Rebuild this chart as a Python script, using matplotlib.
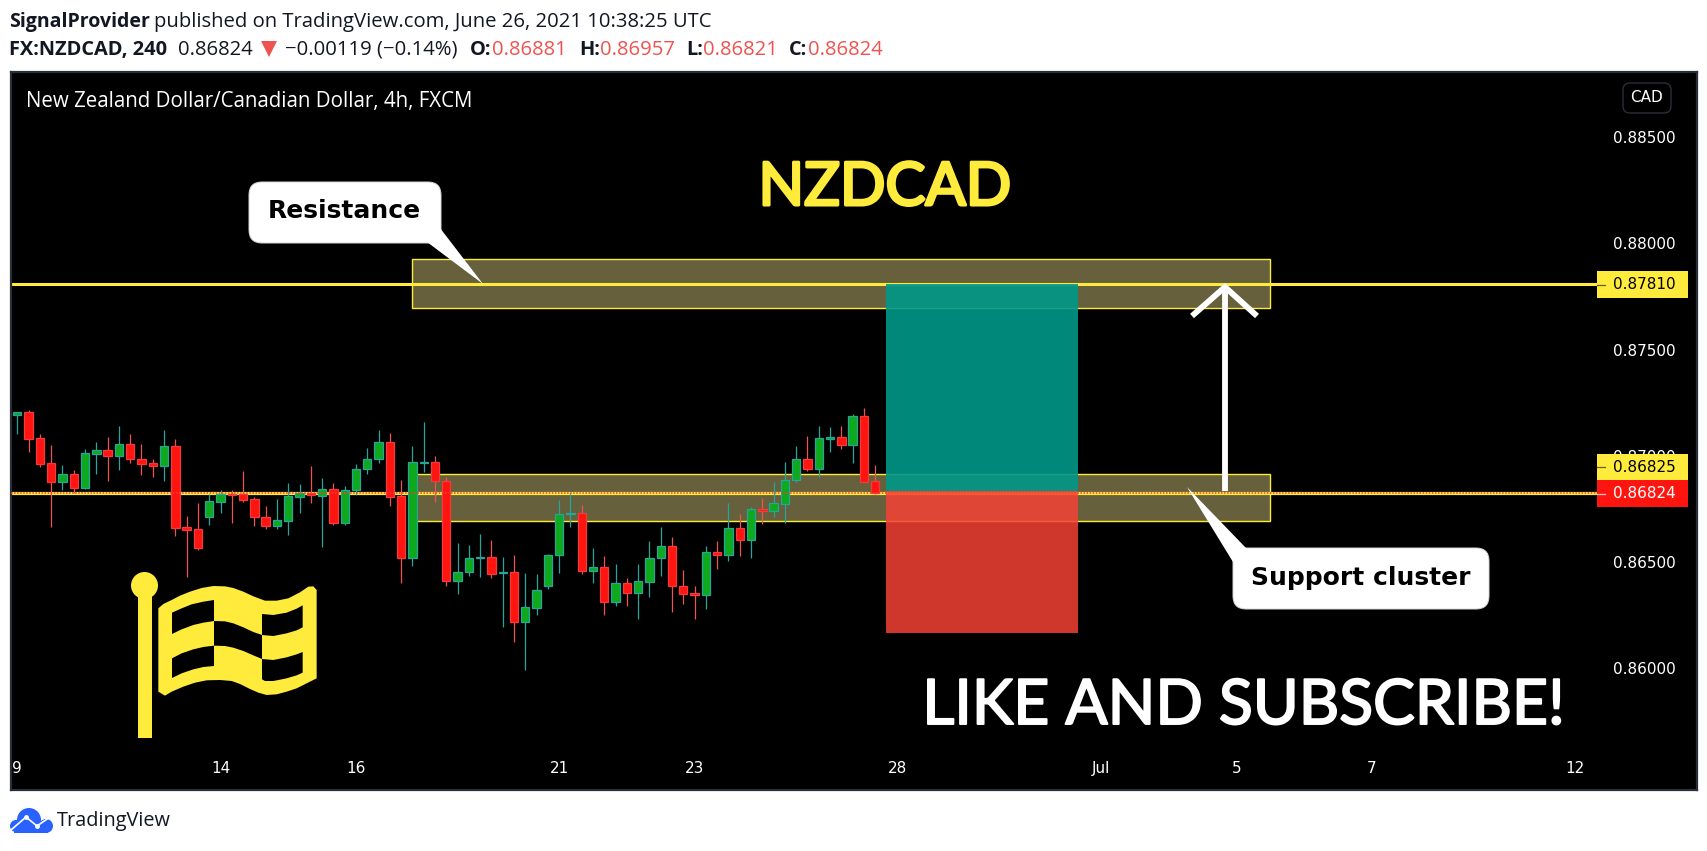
import matplotlib
matplotlib.use('Agg')
import matplotlib.pyplot as plt
import matplotlib.patheffects as pe
from matplotlib.patches import Rectangle, FancyBboxPatch, Polygon, Circle

# 4h candles
opens = [0.87190, 0.87205, 0.87083, 0.86965, 0.86879, 0.86913, 0.86851, 0.87011, 0.87026, 0.86997,
         0.87055, 0.86984, 0.86965, 0.86954, 0.87045, 0.86664, 0.86655, 0.86714, 0.86785, 0.86821,
         0.86821, 0.86796, 0.86711, 0.86672, 0.86695, 0.86808, 0.86824, 0.86813, 0.86843, 0.86686,
         0.86837, 0.86937, 0.86983, 0.87064, 0.86810, 0.86517, 0.86968, 0.86970, 0.86880, 0.86413,
         0.86451, 0.86517, 0.86523, 0.86447, 0.86452, 0.86220, 0.86286, 0.86385, 0.86531, 0.86724,
         0.86730, 0.86460, 0.86476, 0.86314, 0.86400, 0.86356, 0.86408, 0.86517, 0.86575, 0.86386,
         0.86353, 0.86347, 0.86546, 0.86531, 0.86659, 0.86606, 0.86749, 0.86742, 0.86775, 0.86885,
         0.86984, 0.86940, 0.87081, 0.87088, 0.87053, 0.87186, 0.86881]
highs = [0.87205, 0.87216, 0.87102, 0.87052, 0.86957, 0.86934, 0.87033, 0.87066, 0.87089, 0.87141,
         0.87103, 0.87056, 0.86986, 0.87122, 0.87080, 0.86717, 0.86778, 0.86819, 0.86840, 0.86840,
         0.86929, 0.86807, 0.86764, 0.86797, 0.86873, 0.86868, 0.86953, 0.86896, 0.86873, 0.86859,
         0.86962, 0.87036, 0.87122, 0.87108, 0.86887, 0.87047, 0.87160, 0.87000, 0.86901, 0.86590,
         0.86581, 0.86633, 0.86604, 0.86524, 0.86534, 0.86449, 0.86444, 0.86538, 0.86793, 0.86824,
         0.86769, 0.86567, 0.86529, 0.86491, 0.86426, 0.86491, 0.86600, 0.86666, 0.86618, 0.86463,
         0.86388, 0.86576, 0.86600, 0.86778, 0.86727, 0.86760, 0.86802, 0.86877, 0.86972, 0.87047,
         0.87094, 0.87141, 0.87136, 0.87141, 0.87197, 0.87226, 0.86957]
lows = [0.87103, 0.87019, 0.86948, 0.86667, 0.86840, 0.86824, 0.86844, 0.86915, 0.86882, 0.86934,
        0.86967, 0.86910, 0.86901, 0.86882, 0.86623, 0.86430, 0.86557, 0.86675, 0.86731, 0.86684,
        0.86783, 0.86670, 0.86656, 0.86656, 0.86628, 0.86731, 0.86778, 0.86571, 0.86675, 0.86675,
        0.86815, 0.86915, 0.86967, 0.86764, 0.86402, 0.86482, 0.86924, 0.86783, 0.86388, 0.86350,
        0.86435, 0.86430, 0.86426, 0.86195, 0.86124, 0.85992, 0.86251, 0.86374, 0.86449, 0.86666,
        0.86444, 0.86402, 0.86251, 0.86294, 0.86294, 0.86232, 0.86336, 0.86435, 0.86265, 0.86303,
        0.86232, 0.86280, 0.86468, 0.86506, 0.86529, 0.86520, 0.86680, 0.86713, 0.86684, 0.86877,
        0.86929, 0.86901, 0.87019, 0.87033, 0.86967, 0.86879, 0.86821]
closes = [0.87205, 0.87081, 0.86964, 0.86879, 0.86913, 0.86851, 0.87012, 0.87026, 0.86997, 0.87055,
          0.86983, 0.86964, 0.86954, 0.87045, 0.86662, 0.86653, 0.86564, 0.86786, 0.86819, 0.86816,
          0.86794, 0.86710, 0.86672, 0.86697, 0.86810, 0.86824, 0.86815, 0.86843, 0.86686, 0.86838,
          0.86937, 0.86984, 0.87064, 0.86808, 0.86517, 0.86970, 0.86971, 0.86880, 0.86413, 0.86452,
          0.86518, 0.86523, 0.86446, 0.86452, 0.86220, 0.86287, 0.86367, 0.86532, 0.86725, 0.86730,
          0.86460, 0.86476, 0.86314, 0.86400, 0.86356, 0.86410, 0.86518, 0.86575, 0.86385, 0.86352,
          0.86347, 0.86546, 0.86531, 0.86659, 0.86606, 0.86749, 0.86742, 0.86777, 0.86885, 0.86984,
          0.86940, 0.87083, 0.87088, 0.87053, 0.87186, 0.86879, 0.86824]

price_ticks = [0.86000, 0.86500, 0.87000, 0.87500, 0.88000, 0.88500]
date_ticks = [0, 18, 30, 48, 60, 78, 96, 108, 120, 138]
date_labels = ['9', '14', '16', '21', '23', '28', 'Jul', '5', '7', '12']

resistance_line = 0.87810
support_line = 0.86825
last_price = 0.86824
resistance_zone = (0.87696, 0.87926)
support_zone = (0.86692, 0.86913)
zone_start, zone_end = 34.96, 111.0
trade_start, trade_end = 76.94, 93.95
trade_top, trade_entry, trade_stop = 0.87810, 0.86835, 0.86166

W, H = 1708, 851
YELLOW = '#FFEB3B'
RED = '#EF5350'
DARK = '#131722'
BORDER = '#2A2E39'
HEAD_FONT = 'Open Sans'

fig = plt.figure(figsize=(W / 100, H / 100), dpi=100, facecolor='white')

# main panel
ax = fig.add_axes([11 / W, (H - 790) / H, 1686 / W, 718 / H], facecolor='black')
ax.set_xlim(-0.56, 148.8)
ax.set_ylim(0.85427, 0.88807)
for s in ax.spines.values():
    s.set_color(BORDER)
    s.set_linewidth(1.6)

ax.yaxis.tick_right()
ax.set_yticks(price_ticks)
ax.set_yticklabels(['%.5f' % p for p in price_ticks], fontsize=11, color='white')
ax.tick_params(axis='y', length=0, pad=-60.5)
ax.set_xticks(date_ticks)
ax.set_xticklabels(date_labels, fontsize=11, color='white')
ax.tick_params(axis='x', length=0, pad=-21)

# zones
for low, high in [resistance_zone, support_zone]:
    ax.add_patch(Rectangle((zone_start, low), zone_end - zone_start, high - low, facecolor='#66603C',
                           edgecolor=YELLOW, linewidth=1, zorder=1))

# horizontal levels, they stop at the price labels
line_end = (1597 - 11) / 1686
ax.plot([0, line_end], [resistance_line, resistance_line], transform=ax.get_yaxis_transform(),
        color=YELLOW, lw=2.2, zorder=2)
ax.plot([0, line_end], [support_line, support_line], transform=ax.get_yaxis_transform(),
        color=YELLOW, lw=2.3, zorder=2)

# candles
for i in range(len(opens)):
    up = closes[i] >= opens[i]
    wick = '#26A69A' if up else RED
    body = '#0FA91E' if up else '#FF1510'
    edge = '#26A69A' if up else '#F23B3B'
    ax.vlines(i, lows[i], highs[i], color=wick, lw=0.9, zorder=3)
    ax.bar(i, abs(closes[i] - opens[i]), bottom=min(opens[i], closes[i]), width=0.74,
           color=body, edgecolor=edge, linewidth=0.9, zorder=4)

ax.plot([0, line_end], [last_price, last_price], transform=ax.get_yaxis_transform(),
        color='#F23B3B', lw=1.1, ls=(0, (1, 1)), zorder=5)

# long position box
ax.add_patch(Rectangle((trade_start, trade_entry), trade_end - trade_start, trade_top - trade_entry,
                       facecolor='#009889', alpha=0.9, linewidth=0, zorder=6))
ax.add_patch(Rectangle((trade_start, trade_stop), trade_end - trade_start, trade_entry - trade_stop,
                       facecolor='#F54236', alpha=0.85, linewidth=0, zorder=6))

# pixel overlay for drawings and header text
pix = fig.add_axes([0, 0, 1, 1], zorder=5)
pix.set_xlim(0, W)
pix.set_ylim(H, 0)
pix.axis('off')


def label(x, y, s, **kw):
    kw.setdefault('va', 'center')
    kw.setdefault('family', HEAD_FONT)
    return pix.text(x, y, s, **kw)


# header
label(9, 21.5, 'SignalProvider', fontsize=14, fontweight='bold', color=DARK)
label(154, 21.5, 'published on TradingView.com, June 26, 2021 10:38:25 UTC', fontsize=14.6, color=DARK)
label(9, 50, 'FX:NZDCAD, 240', fontsize=14.4, fontweight='bold', color=DARK)
label(178, 50, '0.86824', fontsize=14.6, color=DARK)
pix.add_patch(Polygon([(261, 41), (277, 41), (269, 57)], facecolor=RED, edgecolor='none'))
label(285, 50, '\u22120.00119 (\u22120.14%)', fontsize=14.6, color=DARK)
for x_key, key, x_val, val in [(470, 'O:', 492.5, '0.86881'), (579, 'H:', 600, '0.86957'),
                               (686, 'L:', 703, '0.86821'), (789, 'C:', 808, '0.86824')]:
    label(x_key, 50, key, fontsize=14.4, fontweight='bold', color=DARK)
    label(x_val, 50, val, fontsize=14.6, color=RED)

label(26, 101.5, 'New Zealand Dollar/Canadian Dollar, 4h, FXCM', fontsize=14.8, color='white')

# currency button
pix.add_patch(FancyBboxPatch((1629, 89), 36, 18, boxstyle='round,pad=6,rounding_size=7',
                             facecolor='black', edgecolor=BORDER, linewidth=1))
label(1647, 97.5, 'CAD', fontsize=11, color='white', ha='center', family='DejaVu Sans')

# price labels
for y0, y1, bg, txt, fg, tick in [(271, 298, YELLOW, '0.87810', 'black', '#665E18'),
                                  (454, 480, YELLOW, '0.86825', 'black', '#665E18'),
                                  (480, 507, '#FF1510', '0.86824', 'white', '#FFC0C0')]:
    pix.add_patch(Rectangle((1597, y0), 91, y1 - y0, facecolor=bg, linewidth=0))
    pix.plot([1597, 1605], [(y0 + y1) / 2, (y0 + y1) / 2], color=tick, lw=0.9)
    label(1613, (y0 + y1) / 2, txt, fontsize=11, color=fg, family='DejaVu Sans')

# title and promo text, thickened a little since Lato regular is too thin
label(885, 188, 'NZDCAD', fontsize=43, color=YELLOW, ha='center', family='Lato',
      path_effects=[pe.withStroke(linewidth=2.2, foreground=YELLOW)])
label(1244, 706, 'LIKE AND SUBSCRIBE!', fontsize=45, color='white', ha='center', family='Lato',
      path_effects=[pe.withStroke(linewidth=1.4, foreground='white')])


def callout(box, tail, text, tx):
    x0, y0, x1, y1 = box
    r = 13
    pix.add_patch(FancyBboxPatch((x0 + r, y0 + r), x1 - x0 - 2 * r, y1 - y0 - 2 * r,
                                 boxstyle='round,pad=%d,rounding_size=%d' % (r, r),
                                 facecolor='white', edgecolor='#D8D8D8', linewidth=0.7, zorder=7))
    pix.add_patch(Polygon(tail, facecolor='white', edgecolor='none', zorder=8))
    pix.text(tx, (y0 + y1) / 2 - 1, text, fontsize=18, fontweight='bold', color='black', va='center',
             family='DejaVu Sans', zorder=9)


callout((249, 182, 441, 243), [(427, 242), (440, 228), (483, 284)], 'Resistance', 268)
callout((1233, 548, 1489, 609), [(1233, 562), (1247, 549), (1187, 487)], 'Support cluster', 1251)

# arrow
pix.plot([1225, 1225], [288, 491], color='white', lw=4.2, solid_capstyle='butt')
pix.plot([1192, 1225, 1257], [316, 287, 316], color='white', lw=4.2, solid_joinstyle='miter', solid_capstyle='butt')

# flag
FLAG = '#FFEB3B'
pix.add_patch(Rectangle((138, 595), 14, 143, facecolor=FLAG, linewidth=0))
pix.add_patch(Circle((144.5, 585.5), 13.5, facecolor=FLAG, linewidth=0))


def flag_pts(pts):
    return [(100 + x / 3, 550 + y / 3) for x, y in pts]


pix.add_patch(Polygon(flag_pts([(175, 175), (190, 162), (215, 150), (240, 137), (270, 125), (305, 114), (340, 108),
                                (375, 109), (400, 114), (430, 125), (460, 139), (495, 152), (530, 152), (565, 145),
                                (600, 127), (625, 110), (640, 109), (650, 120), (650, 385), (620, 400), (590, 415),
                                (560, 425), (530, 433), (500, 435), (475, 428), (450, 417), (420, 402), (395, 393),
                                (360, 390), (320, 391), (285, 398), (250, 410), (215, 425), (195, 437),
                                (175, 425)]), facecolor=FLAG, linewidth=0))
cells = [[(216, 188), (245, 175), (275, 163), (310, 155), (342, 150), (342, 213), (310, 218), (280, 225),
          (245, 238), (216, 252)],
         [(216, 325), (245, 310), (280, 298), (310, 291), (342, 287), (342, 348), (310, 351), (280, 358),
          (245, 370), (216, 384)],
         [(342, 213), (375, 214), (400, 220), (430, 232), (460, 246), (486, 255), (486, 327), (460, 316),
          (430, 303), (400, 293), (375, 288), (342, 287)],
         [(486, 192), (520, 195), (560, 188), (590, 176), (608, 166), (608, 232), (590, 241), (560, 250),
          (520, 258), (486, 255)],
         [(486, 327), (520, 330), (560, 322), (590, 313), (608, 306), (608, 368), (590, 376), (560, 385),
          (520, 393), (495, 393), (486, 388)]]
for c in cells:
    pix.add_patch(Polygon(flag_pts(c), facecolor='black', linewidth=0))

# tradingview logo
BLUE = '#2962FF'
pix.add_patch(Circle((29, 820), 12, facecolor=BLUE, linewidth=0))
pix.add_patch(Circle((16, 826), 6, facecolor=BLUE, linewidth=0))
pix.add_patch(Circle((46, 826), 7, facecolor=BLUE, linewidth=0))
pix.add_patch(Rectangle((14, 824), 34, 8.5, facecolor=BLUE, linewidth=0))
pix.plot([11, 26, 37, 53], [830, 817, 826, 815], color='white', lw=1.2)
pix.plot([26, 37], [817, 826], 'o', color='white', ms=3.5, mew=0)
label(57, 821, 'TradingView', fontsize=14.3, color=DARK)

fig.savefig('out.png', dpi=100, facecolor='white')
